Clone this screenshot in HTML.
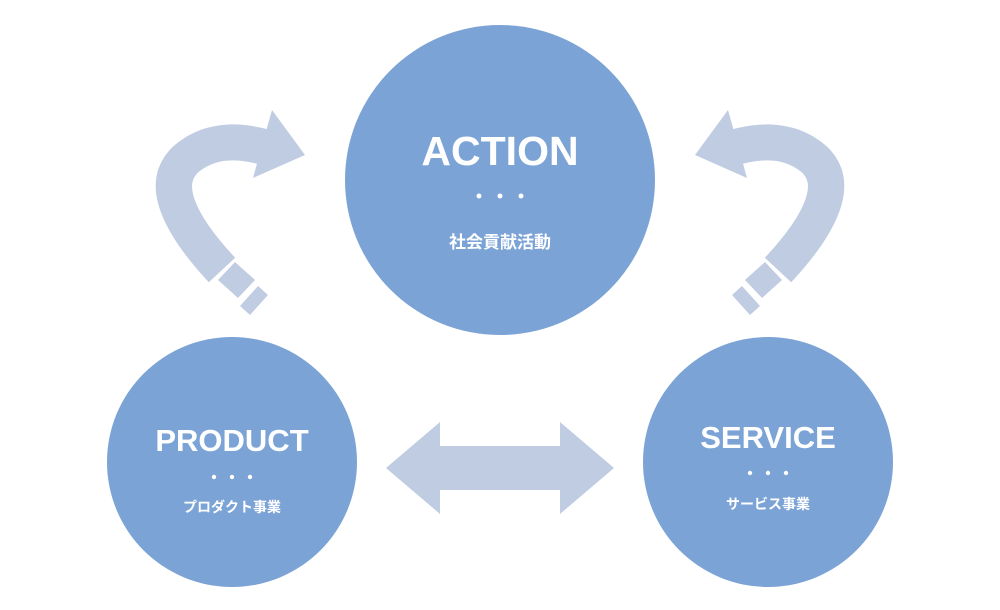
<!DOCTYPE html>
<html><head><meta charset="utf-8"><style>
html,body{margin:0;padding:0;background:#fff;}
svg{display:block}
text{font-family:"Liberation Sans","Noto Sans CJK JP",sans-serif;fill:#fff;font-weight:bold;text-anchor:middle}
</style></head><body>
<svg width="1000" height="610" viewBox="0 0 1000 610">
<g id="ca" fill="#c0cce2" stroke="none">
<path d="M222 270 C180 225 160 185 185 160 C210 138 240 140 268 148" fill="none" stroke="#c0cce2" stroke-width="36"/>
<polygon points="272,110 305,155 253,178"/>
<polygon points="235,262 255,280 238,298 218,280"/>
<polygon points="258,286 268,295 250,315 240,306"/>
</g>
<g transform="translate(1000,0) scale(-1,1)" fill="#c0cce2">
<path d="M222 270 C180 225 160 185 185 160 C210 138 240 140 268 148" fill="none" stroke="#c0cce2" stroke-width="36"/>
<polygon points="272,110 305,155 253,178"/>
<polygon points="235,262 255,280 238,298 218,280"/>
<polygon points="258,286 268,295 250,315 240,306"/>
</g>
<polygon fill="#c0cce2" points="386,468 440,422 440,446 560,446 560,422 614,468 560,514 560,490 440,490 440,514"/>
<circle cx="500" cy="180" r="155" fill="#7ba3d6"/>
<circle cx="232" cy="462" r="125" fill="#7ba3d6"/>
<circle cx="768" cy="462" r="125" fill="#7ba3d6"/>
<text x="500" y="165" font-size="41">ACTION</text>
<g fill="#fff"><circle cx="479" cy="196" r="2.5"/><circle cx="500" cy="196" r="2.5"/><circle cx="521" cy="196" r="2.5"/></g>
<text x="500" y="248" font-size="17">社会貢献活動</text>
<text x="232" y="451" font-size="31">PRODUCT</text>
<g fill="#fff"><circle cx="214" cy="477" r="2.2"/><circle cx="232" cy="477" r="2.2"/><circle cx="250" cy="477" r="2.2"/></g>
<text x="232" y="512" font-size="14">プロダクト事業</text>
<text x="768" y="448" font-size="31">SERVICE</text>
<g fill="#fff"><circle cx="750" cy="473" r="2.2"/><circle cx="768" cy="473" r="2.2"/><circle cx="786" cy="473" r="2.2"/></g>
<text x="768" y="509" font-size="14">サービス事業</text>
</svg>
</body></html>
